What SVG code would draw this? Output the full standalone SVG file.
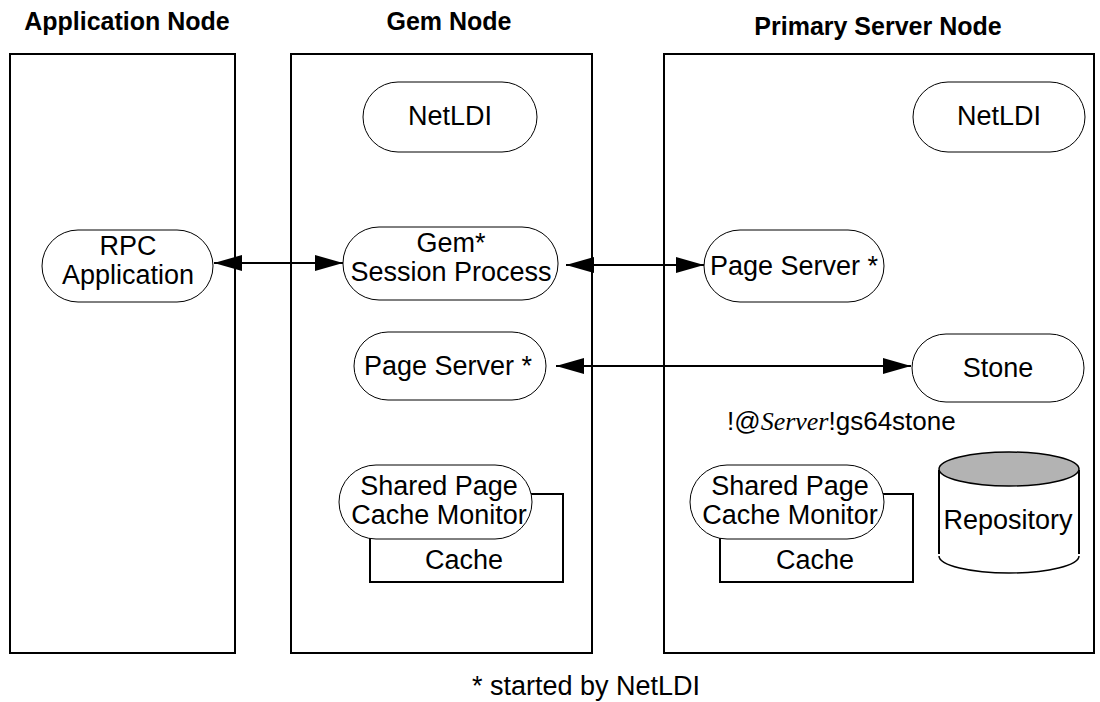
<svg xmlns="http://www.w3.org/2000/svg" width="1100" height="702" viewBox="0 0 1100 702">
  <style>
    .hdr { font-family: "Liberation Sans", Arial, sans-serif; font-size: 25px; font-weight: bold; text-anchor: middle; fill: #000; }
    .lbl { font-family: "Liberation Sans", Arial, sans-serif; font-size: 27px; text-anchor: middle; fill: #000; }
    .frame { fill: none; stroke: #000; stroke-width: 2; }
    .pill { fill: #fff; stroke: #000; stroke-width: 1; }
    .cache { fill: #fff; stroke: #000; stroke-width: 2; }
    .conn { stroke: #000; stroke-width: 2; fill: none; marker-start: url(#head); marker-end: url(#head); }
  </style>
  <defs>
    <marker id="head" viewBox="0 0 28 16" refX="28" refY="8" markerWidth="28" markerHeight="16" markerUnits="userSpaceOnUse" orient="auto-start-reverse">
      <path d="M0,0 L28,8 L0,16 Z" fill="#000"/>
    </marker>
  </defs>
  <rect width="1100" height="702" fill="#fff"/>

  <!-- machine frames -->
  <g id="application-node">
    <text class="hdr" x="127" y="30">Application Node</text>
    <rect class="frame" x="10" y="54" width="225" height="599"/>
  </g>
  <g id="gem-node">
    <text class="hdr" x="449" y="30">Gem Node</text>
    <rect class="frame" x="291" y="54" width="301" height="599"/>
  </g>
  <g id="primary-server-node">
    <text class="hdr" x="878" y="35">Primary Server Node</text>
    <rect class="frame" x="664" y="54" width="430" height="599"/>
  </g>

  <!-- connectors -->
  <g id="connectors">
    <line class="conn" x1="214" y1="263" x2="343" y2="263"/>
    <line class="conn" x1="566" y1="265" x2="704" y2="265"/>
    <line class="conn" x1="556" y1="366" x2="911" y2="366"/>
  </g>

  <!-- processes -->
  <g id="rpc-application">
    <rect class="pill" x="42" y="230" width="171" height="72" rx="36"/>
    <text class="lbl" x="128" y="255">RPC</text>
    <text class="lbl" x="128" y="284">Application</text>
  </g>
  <g id="gem-netldi">
    <rect class="pill" x="363" y="82" width="174" height="70" rx="35"/>
    <text class="lbl" x="450" y="125">NetLDI</text>
  </g>
  <g id="gem-session">
    <rect class="pill" x="343" y="227" width="215" height="73" rx="36"/>
    <text class="lbl" x="451" y="252">Gem*</text>
    <text class="lbl" x="451" y="281">Session Process</text>
  </g>
  <g id="gem-page-server">
    <rect class="pill" x="354" y="332" width="192" height="68" rx="34"/>
    <text class="lbl" x="448" y="375">Page Server *</text>
  </g>
  <g id="gem-cache">
    <rect class="cache" x="370" y="494" width="193" height="88"/>
    <text class="lbl" x="464" y="569">Cache</text>
  </g>
  <g id="gem-cache-monitor">
    <rect class="pill" x="339" y="465" width="193" height="74" rx="37"/>
    <text class="lbl" x="439" y="495">Shared Page</text>
    <text class="lbl" x="439" y="524">Cache Monitor</text>
  </g>

  <g id="server-netldi">
    <rect class="pill" x="913" y="82" width="172" height="70" rx="35"/>
    <text class="lbl" x="999" y="125">NetLDI</text>
  </g>
  <g id="server-page-server">
    <rect class="pill" x="704" y="230" width="180" height="72" rx="36"/>
    <text class="lbl" x="794" y="275">Page Server *</text>
  </g>
  <g id="stone">
    <rect class="pill" x="912" y="334" width="172" height="68" rx="34"/>
    <text class="lbl" x="998" y="377">Stone</text>
  </g>
  <g id="stone-name">
    <text class="lbl" x="727" y="430" style="text-anchor:start; font-size:26px">!@<tspan font-family="'Liberation Serif', 'Times New Roman', serif" font-style="italic">Server</tspan>!gs64stone</text>
  </g>
  <g id="server-cache">
    <rect class="cache" x="720" y="494" width="193" height="88"/>
    <text class="lbl" x="815" y="569">Cache</text>
  </g>
  <g id="server-cache-monitor">
    <rect class="pill" x="690" y="465" width="194" height="74" rx="37"/>
    <text class="lbl" x="790" y="495">Shared Page</text>
    <text class="lbl" x="790" y="524">Cache Monitor</text>
  </g>
  <g id="repository">
    <path d="M939,470 V554 M1079,470 V554" stroke="#000" stroke-width="2" fill="none"/>
    <path d="M939,556 A70,17 0 0 0 1079,556" stroke="#000" stroke-width="1.5" fill="none"/>
    <ellipse cx="1009" cy="469" rx="70" ry="17" fill="#b3b3b3" stroke="#000" stroke-width="1.5"/>
    <text class="lbl" x="1008" y="529">Repository</text>
  </g>

  <text class="lbl" x="586" y="695">* started by NetLDI</text>
</svg>
